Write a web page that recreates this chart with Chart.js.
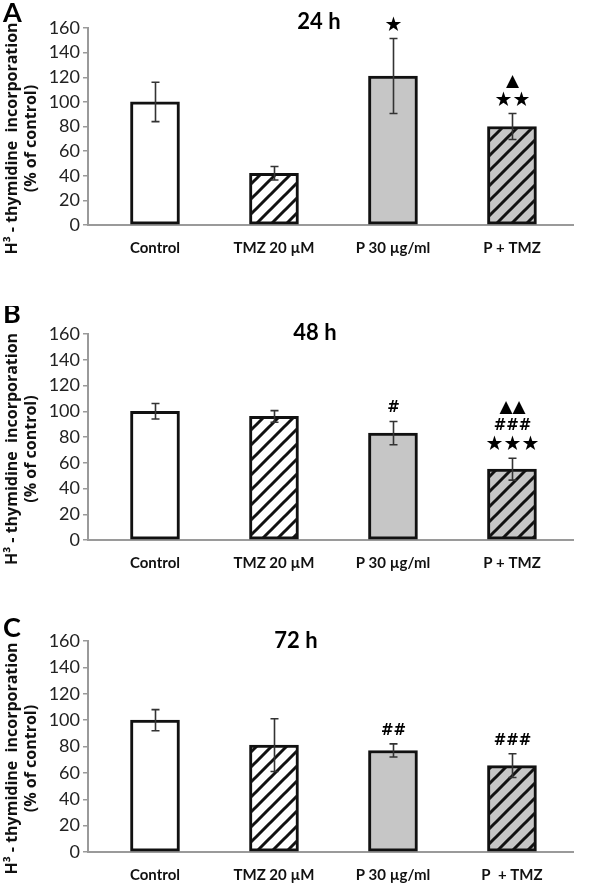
<!DOCTYPE html>
<html>
<head>
<meta charset="utf-8">
<script src="https://cdn.jsdelivr.net/npm/chart.js@4"></script>
<style>
    body { margin: 0; background: #fff; width: 600px; height: 883px; overflow: hidden; position: relative; }
    .panel { position: absolute; left: 0; width: 600px; }
</style>
</head>
<body>
<div class="panel" id="wrapA"><canvas id="chartA"></canvas></div>
<div class="panel" id="wrapB"><canvas id="chartB"></canvas></div>
<div class="panel" id="wrapC"><canvas id="chartC"></canvas></div>
<script>
// data
var categories = ['Control', 'TMZ 20 µM', 'P 30 µg/ml', 'P + TMZ'];
var categoriesC = ['Control', 'TMZ 20 µM', 'P 30 µg/ml', 'P  + TMZ'];

var valuesA = [100, 42, 121, 80];
var errorsA = [16, 5.5, 30.5, 10.5];
var marksA = [[], [], ['★'], ['★★', '▲']];

var valuesB = [100, 96, 83, 55];
var errorsB = [6, 4.5, 9, 8.5];
var marksB = [[], [], ['#'], ['★★★', '###', '▲▲']];

var valuesC = [100, 81, 77, 65.5];
var errorsC = [8, 20, 5, 9];
var marksC = [[], [], ['##'], ['###']];

var yTitle = ['H³ - thymidine  incorporation', '(% of control)'];

var GRAY = '#c6c6c6';
var AXIS = '#9a9a9a';

function hatch(bg) {
    var c = document.createElement('canvas');
    c.width = 15; c.height = 15;
    var g = c.getContext('2d');
    g.fillStyle = bg;
    g.fillRect(0, 0, 15, 15);
    g.strokeStyle = '#111';
    g.lineWidth = 3;
    g.beginPath();
    g.moveTo(-2, 17); g.lineTo(17, -2);
    g.moveTo(-3, 3); g.lineTo(3, -3);
    g.moveTo(12, 18); g.lineTo(18, 12);
    g.stroke();
    return g.createPattern(c, 'repeat');
}

var panels = [
    { key: 'A', title: '24 h', cats: categories, values: valuesA, errors: errorsA, marks: marksA,
      top: 0, areaH: 197, titleX: 319, titleY: 22, letterY: 13 },
    { key: 'B', title: '48 h', cats: categories, values: valuesB, errors: errorsB, marks: marksB,
      top: 306, areaH: 206, titleX: 315, titleY: 27, letterY: 8 },
    { key: 'C', title: '72 h', cats: categoriesC, values: valuesC, errors: errorsC, marks: marksC,
      top: 613, areaH: 211, titleX: 296, titleY: 28, letterY: 15 }
];

function markFont(m) {
    if (m.indexOf('★') >= 0) return '20px "DejaVu Sans"';
    if (m.indexOf('▲') >= 0) return '17px "DejaVu Sans"';
    return 'bold 15px "DejaVu Sans"';
}

function makeDecor(p) {
    return {
        id: 'decor' + p.key,
        afterDatasetsDraw(chart) {
            var ctx = chart.ctx, xs = chart.scales.x, ys = chart.scales.y, area = chart.chartArea;
            ctx.save();
            // error bars + significance marks
            p.values.forEach(function (v, i) {
                var cx = Math.round(xs.getPixelForValue(i)) + 0.5;
                var hi = ys.getPixelForValue(v + p.errors[i]);
                var lo = ys.getPixelForValue(v - p.errors[i]);
                ctx.strokeStyle = '#333';
                ctx.lineWidth = 1.6;
                ctx.beginPath();
                ctx.moveTo(cx, hi); ctx.lineTo(cx, lo);
                ctx.moveTo(cx - 4, hi); ctx.lineTo(cx + 4, hi);
                ctx.moveTo(cx - 4, lo); ctx.lineTo(cx + 4, lo);
                ctx.stroke();

                ctx.fillStyle = '#000';
                ctx.textAlign = 'center';
                ctx.textBaseline = 'middle';
                p.marks[i].forEach(function (m, k) {
                    ctx.font = markFont(m);
                    ctx.fillText(m, cx, hi - 13 - k * 19);
                });
            });

            // title and panel letter
            ctx.fillStyle = '#000';
            ctx.textAlign = 'center';
            ctx.textBaseline = 'middle';
            ctx.font = 'bold 22px Lato';
            ctx.fillText(p.title, p.titleX, p.titleY);
            ctx.textAlign = 'left';
            ctx.font = 'bold 27px Lato';
            ctx.fillText(p.key, 3, p.letterY);

            // y axis title (two lines, rotated)
            ctx.translate(0, (area.top + area.bottom) / 2 + 12);
            ctx.rotate(-Math.PI / 2);
            ctx.textAlign = 'center';
            ctx.font = 'bold 16px "Open Sans"';
            ctx.fillStyle = '#111';
            ctx.fillText(yTitle[0], 0, 12);
            ctx.fillText(yTitle[1], 0, 31);
            ctx.restore();
        }
    };
}

panels.forEach(function (p) {
    var wrap = document.getElementById('wrap' + p.key);
    var h = p.areaH + 28 + 40;
    wrap.style.top = p.top + 'px';
    wrap.style.height = h + 'px';
    var canvas = document.getElementById('chart' + p.key);
    canvas.width = 600; canvas.height = h;
    canvas.style.width = '600px'; canvas.style.height = h + 'px';

    var fills = ['#ffffff', hatch('#ffffff'), GRAY, hatch(GRAY)];

    new Chart(canvas, {
        type: 'bar',
        data: {
            datasets: [{
                data: p.values.map(function (v, i) { return { x: i, y: v }; }),
                backgroundColor: fills,
                borderColor: '#111',
                borderWidth: 3,
                borderSkipped: false,
                barThickness: 49
            }]
        },
        options: {
            responsive: false,
            animation: false,
            layout: { padding: { top: 28, right: 27, left: 0, bottom: 0 } },
            plugins: { legend: { display: false }, tooltip: { enabled: false } },
            scales: {
                x: {
                    type: 'linear',
                    offset: false,
                    min: -0.563,
                    max: 3.513,
                    afterBuildTicks: function (scale) {
                        scale.ticks = p.cats.map(function (c, i) { return { value: i }; });
                    },
                    afterFit: function (scale) {
                        scale.height = 40;
                        scale.paddingLeft = 0;
                        scale.paddingRight = 0;
                    },
                    grid: { display: false, drawTicks: false },
                    border: { display: true, color: AXIS, width: 2 },
                    ticks: {
                        maxRotation: 0,
                        autoSkip: false,
                        padding: 14,
                        color: '#111',
                        font: { family: 'Lato', size: 15, weight: 'bold' },
                        callback: function (v) { return p.cats[v]; }
                    }
                },
                y: {
                    min: 0,
                    max: 160,
                    afterFit: function (scale) { scale.width = 88; },
                    grid: { drawOnChartArea: false, drawTicks: true, tickLength: 5, color: AXIS, lineWidth: 1.5 },
                    border: { display: true, color: AXIS, width: 2 },
                    ticks: {
                        stepSize: 20,
                        padding: 3,
                        color: '#222',
                        font: { family: 'Lato', size: 18 }
                    }
                }
            }
        },
        plugins: [makeDecor(p)]
    });
});
</script>
</body>
</html>
